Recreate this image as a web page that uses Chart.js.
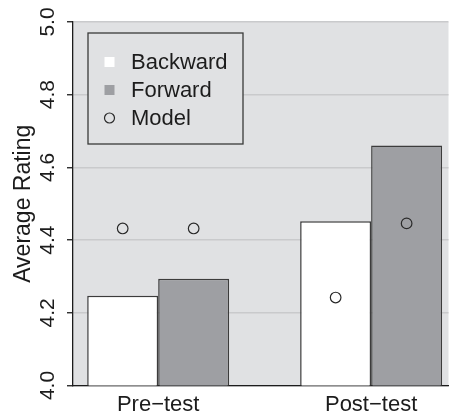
<!DOCTYPE html>
<html>
<head>
<meta charset="utf-8">
<script src="https://cdn.jsdelivr.net/npm/chart.js@4.4.1/dist/chart.umd.min.js"></script>
<style>
  html, body { margin: 0; padding: 0; background: #fff; overflow: hidden; }
</style>
</head>
<body>
<canvas id="myChart" width="455" height="416"></canvas>
<script>
// data
var categories = ['Pre\u2212test', 'Post\u2212test'];
var groupPos = [2, 5];            // group centres on the x axis (bar units)
var backward = [4.247, 4.452];
var forward = [4.294, 4.660];
var modelBackward = [4.432, 4.242];
var modelForward = [4.432, 4.446];
var yTicks = [4.0, 4.2, 4.4, 4.6, 4.8, 5.0];

var plotBg = '#e0e1e3';
var ink = '#1c1c1c';

var backwardPts = groupPos.map(function (p, i) { return { x: p, y: backward[i] }; });
var forwardPts = groupPos.map(function (p, i) { return { x: p, y: forward[i] }; });
var modelPts = [];
groupPos.forEach(function (p, i) {
  modelPts.push({ x: p - 0.5, y: modelBackward[i] });
  modelPts.push({ x: p + 0.5, y: modelForward[i] });
});

// grey panel behind the plot
var panelBg = {
  id: 'panelBg',
  beforeDraw: function (chart) {
    var a = chart.chartArea, c = chart.ctx;
    c.save();
    c.fillStyle = plotBg;
    c.fillRect(a.left, a.top, a.right - a.left, a.bottom - a.top);
    c.restore();
  }
};

// boxed legend in the top-left corner of the plot
var boxLegend = {
  id: 'boxLegend',
  afterDatasetsDraw: function (chart) {
    var a = chart.chartArea, c = chart.ctx;
    var x0 = a.left + 15, y0 = a.top + 11, w = 155, h = 111;
    c.save();
    c.fillStyle = plotBg;
    c.fillRect(x0, y0, w, h);
    c.strokeStyle = '#3a3a3a';
    c.lineWidth = 1.3;
    c.strokeRect(x0, y0, w, h);
    c.font = '22px "Liberation Sans", Arial, sans-serif';
    c.textBaseline = 'middle';
    c.textAlign = 'left';
    chart.data.datasets.forEach(function (ds, i) {
      var cy = y0 + 29 + i * 28;
      var mx = x0 + 21.5;
      if (ds.type === 'scatter') {
        c.beginPath();
        c.arc(mx, cy, 5, 0, Math.PI * 2);
        c.strokeStyle = ds.borderColor;
        c.lineWidth = 1.2;
        c.stroke();
      } else {
        c.fillStyle = ds.backgroundColor;
        c.fillRect(mx - 5, cy - 5, 10, 10);
      }
      c.fillStyle = ink;
      c.fillText(ds.label, x0 + 43, cy + 1);
    });
    c.restore();
  }
};

var ctx = document.getElementById('myChart').getContext('2d');
var chart = new Chart(ctx, {
  type: 'bar',
  data: {
    datasets: [
      {
        label: 'Backward',
        data: backwardPts,
        backgroundColor: '#ffffff',
        borderColor: '#3c3c3c',
        borderWidth: 1.5,
        categoryPercentage: 2 / 3,
        barPercentage: 1,
        order: 1
      },
      {
        label: 'Forward',
        data: forwardPts,
        backgroundColor: '#9e9fa3',
        borderColor: '#3c3c3c',
        borderWidth: 1.5,
        categoryPercentage: 2 / 3,
        barPercentage: 1,
        order: 1
      },
      {
        type: 'scatter',
        label: 'Model',
        data: modelPts,
        pointStyle: 'circle',
        pointRadius: 5.3,
        pointBorderWidth: 1.2,
        borderColor: '#2a2a2a',
        backgroundColor: 'rgba(0,0,0,0)',
        order: 0
      }
    ]
  },
  options: {
    responsive: false,
    devicePixelRatio: 1,
    animation: false,
    layout: {
      padding: { top: 22, right: 0, bottom: 0, left: 0 }
    },
    plugins: {
      legend: { display: false },
      tooltip: { enabled: false }
    },
    scales: {
      x: {
        type: 'linear',
        min: 0.8,
        max: 6.09,
        offset: false,
        afterFit: function (scale) { scale.height = 30.5; },
        afterBuildTicks: function (scale) {
          scale.ticks = groupPos.map(function (p) { return { value: p }; });
        },
        grid: { display: false, drawTicks: false, offset: false },
        border: { display: true, color: ink, width: 1.3 },
        ticks: {
          padding: 6,
          maxRotation: 0,
          color: ink,
          font: { family: '"Liberation Sans", Arial, sans-serif', size: 22 },
          callback: function (v, i) { return categories[i]; }
        }
      },
      y: {
        min: 4.0,
        max: 5.0,
        afterFit: function (scale) { scale.width = 73; },
        afterBuildTicks: function (scale) {
          scale.ticks = yTicks.map(function (v) { return { value: v }; });
        },
        grid: {
          color: '#c9cacc',
          lineWidth: 1.5,
          tickLength: 6,
          tickColor: ink,
          tickWidth: 1.3
        },
        border: { display: true, color: ink, width: 1.3 },
        ticks: {
          padding: 4,
          minRotation: 90,
          maxRotation: 90,
          crossAlign: 'center',
          color: ink,
          font: { family: '"Liberation Sans", Arial, sans-serif', size: 21 },
          callback: function (v) { return Number(v).toFixed(1); }
        },
        title: {
          display: true,
          text: 'Average Rating',
          color: ink,
          padding: { top: 10, bottom: 0 },
          font: { family: '"Liberation Sans", Arial, sans-serif', size: 23 }
        }
      }
    }
  },
  plugins: [panelBg, boxLegend]
});
</script>
</body>
</html>
